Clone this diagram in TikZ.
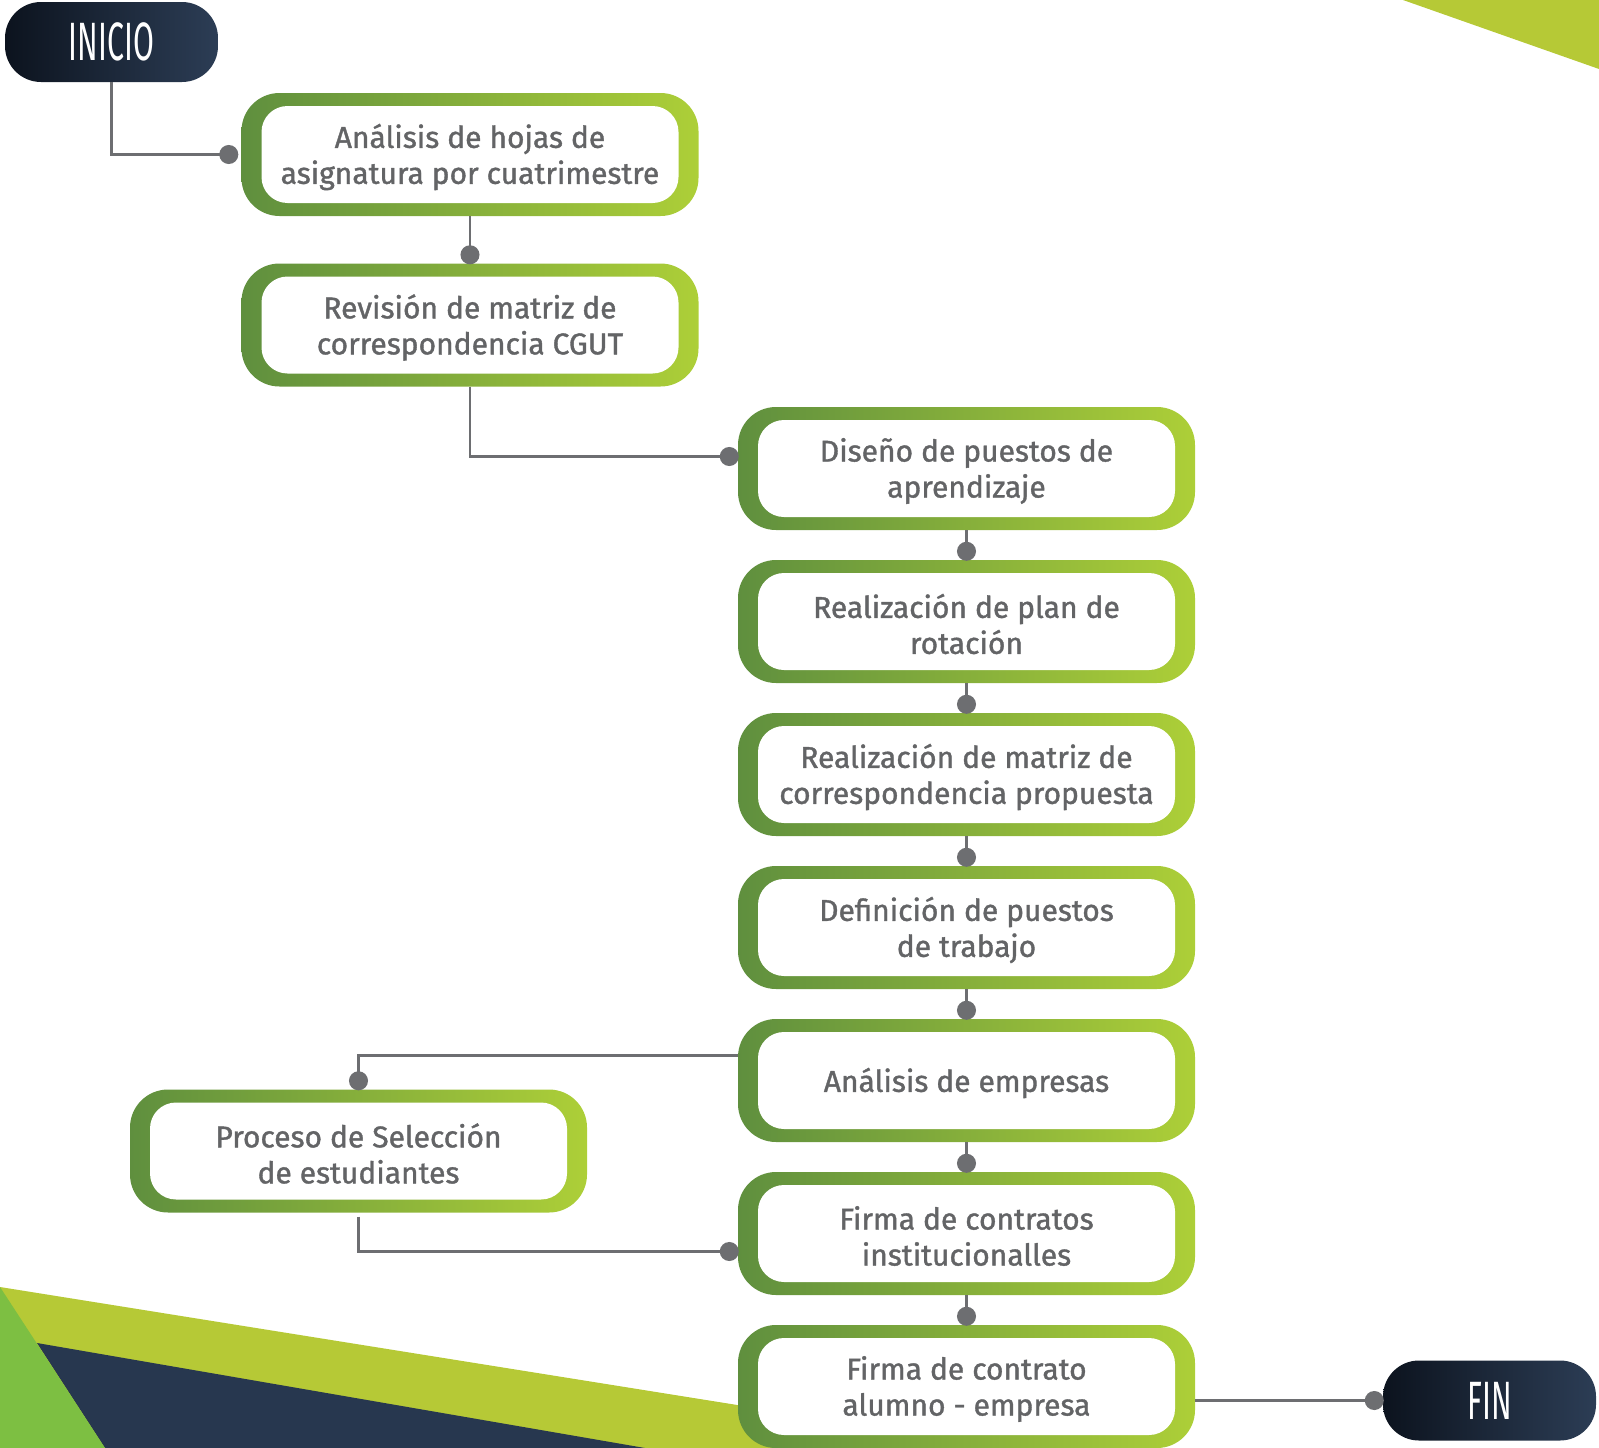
\documentclass[tikz,border=0pt]{standalone}
\usepackage{fontspec}
\setmainfont{Fira Sans}
\newfontfamily\txtfont[RawFeature={embolden=1.2}]{Fira Sans}
\usetikzlibrary{arrows.meta}
\definecolor{gdark}{HTML}{5F8F3E}
\definecolor{glight}{HTML}{ADCF38}
\definecolor{bandyellow}{HTML}{B6C936}
\definecolor{bandgreen}{HTML}{7DBF42}
\definecolor{navyband}{HTML}{27374F}
\definecolor{pillL}{HTML}{0C131E}
\definecolor{pillR}{HTML}{2C3D55}
\definecolor{conngray}{HTML}{6D6E71}
\definecolor{txtgray}{HTML}{636466}
\tikzset{
  outerbox/.style={left color=gdark, right color=glight, rounded corners=38pt,
    minimum width=457pt, minimum height=123pt, inner sep=0pt},
  stepbox/.style={fill=white, rounded corners=26pt, minimum width=417pt,
    minimum height=97pt, inner sep=0pt},
  steptext/.style={inner sep=0pt, text=txtgray,
    font=\txtfont\fontsize{30}{36}\selectfont, align=center},
  pill/.style={left color=pillL, right color=pillR, rounded corners=36pt,
    minimum width=213pt, minimum height=80pt, inner sep=0pt, text=white,
    font=\fontsize{54}{54}\selectfont},
  conn/.style={draw=conngray, line width=2.5pt},
  dottip/.style={-{Circle[length=19pt,width=19pt]}, shorten >=-1pt},
}
\newcommand\procstep[4]{%
  \node[outerbox] (#1) at (#2,#3) {};
  \node[stepbox] (#1w) at (#1.center) {};
  \node[steptext] (#1t) at ([yshift=-2.5pt]#1.center) {#4};
}
\begin{document}
\begin{tikzpicture}[x=1pt,y=-1pt]
\useasboundingbox (0,0) rectangle (1599,1448);
% background
\fill[bandyellow] (0,1287) -- (1006,1448) -- (0,1448) -- cycle;
\fill[navyband] (37,1343) -- (645,1448) -- (105,1448) -- cycle;
\fill[bandgreen] (0,1287) -- (105,1448) -- (0,1448) -- cycle;
\fill[bandyellow] (1403,0) -- (1599,0) -- (1599,69) -- cycle;
% terminals
\node[pill] (inicio) at (111.5,42) {\scalebox{0.56}[1]{INICIO}};
\node[pill] (fin) at (1489.5,1400.5) {\scalebox{0.56}[1]{FIN}};
% steps
\procstep{b1}{470}{154.5}{Análisis de hojas de\\asignatura por cuatrimestre}
\procstep{b2}{470}{325}{Revisión de matriz de\\correspondencia CGUT}
\procstep{b3}{966.5}{468.5}{Diseño de puestos de\\aprendizaje}
\procstep{b4}{966.5}{621.5}{Realización de plan de\\rotación}
\procstep{b5}{966.5}{774.5}{Realización de matriz de\\correspondencia propuesta}
\procstep{b6}{966.5}{927.5}{Definición de puestos\\de trabajo}
\procstep{b7}{966.5}{1080.5}{Análisis de empresas}
\procstep{b8}{966.5}{1233.5}{Firma de contratos\\institucionalles}
\procstep{b9}{966.5}{1386.5}{Firma de contrato\\alumno - empresa}
\procstep{pr}{358.5}{1151}{Proceso de Selección\\de estudiantes}
% connectors
\draw[conn,dottip,shorten >=3pt] (inicio.south) |- (b1.west);
\draw[conn,dottip] (b1) -- (b2);
\draw[conn,dottip] (b2.south) |- ([yshift=12pt]b3.west);
\draw[conn,dottip] (b3) -- (b4);
\draw[conn,dottip] (b4) -- (b5);
\draw[conn,dottip] (b5) -- (b6);
\draw[conn,dottip] (b6) -- (b7);
\draw[conn,dottip] ([yshift=25pt]b7.west) -| (pr.north);
\draw[conn,dottip] (b7) -- (b8);
\draw[conn,dottip,shorten <=4pt] (pr.south) |- ([yshift=-18pt]b8.west);
\draw[conn,dottip] (b8) -- (b9);
\draw[conn,dottip] (b9.east |- fin.west) -- (fin.west);
\end{tikzpicture}
\end{document}
